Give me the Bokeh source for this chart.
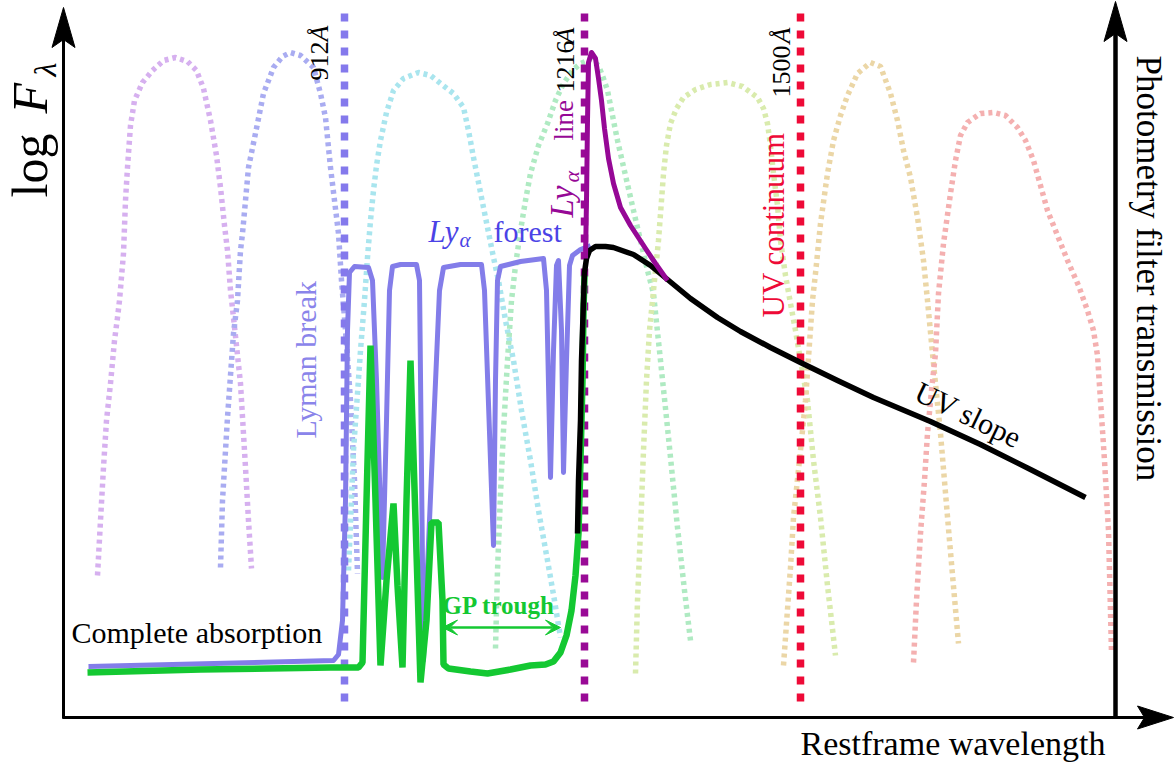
import math
from bokeh.plotting import figure
from bokeh.models import Range1d, Arrow, VeeHead
from bokeh.core.properties import value
from bokeh.embed import file_html
from bokeh.resources import INLINE

W, H = 1174, 765
SERIF = "Liberation Serif"

# ---------------- data (schematic units; y grows downward) -------------
# photometric filter transmission curves
f1_x = [97, 100, 103, 106, 110, 114, 117, 119, 123, 125, 127, 130, 134, 142, 152, 163, 175, 187, 196, 203, 210, 216, 220, 224, 227, 230, 233, 240, 245, 248, 251]
f1_y = [575, 520, 467, 420, 383, 340, 317, 300, 253, 200, 167, 125, 100, 82, 70, 60, 57, 61, 70, 88, 120, 155, 187, 225, 250, 290, 317, 383, 467, 520, 568]
f2_x = [220, 222, 227, 233, 237, 240, 242, 248, 257, 263, 273, 282, 290, 300, 313, 320, 325, 330, 334, 338, 341, 345, 350, 354, 357]
f2_y = [567, 500, 417, 333, 300, 250, 233, 167, 123, 93, 67, 56, 52, 55, 67, 93, 117, 167, 200, 233, 280, 330, 400, 480, 573]
f3_x = [348, 353, 360, 364, 367, 370, 373, 376, 380, 386, 393, 403, 418, 430, 440, 453, 463, 468, 473, 478, 483, 488, 493, 498, 505, 513, 521, 530, 538, 547, 554, 560]
f3_y = [570, 450, 350, 300, 257, 220, 190, 165, 140, 112, 90, 78, 72, 75, 83, 93, 107, 130, 157, 182, 207, 232, 257, 280, 320, 360, 410, 460, 510, 560, 600, 637]
f4_x = [495, 497, 500, 503, 507, 511, 515, 520, 525, 530, 538, 547, 555, 563, 572, 580, 590, 598, 603, 607, 612, 617, 625, 633, 640, 647, 653, 660, 667, 677, 684, 690]
f4_y = [648, 570, 493, 430, 360, 300, 265, 230, 200, 173, 145, 123, 100, 83, 70, 63, 59, 65, 78, 90, 115, 140, 175, 210, 240, 270, 293, 360, 427, 527, 590, 640]
f5_x = [635, 637, 640, 643, 646, 649, 653, 658, 661, 663, 666, 670, 676, 683, 695, 710, 727, 742, 757, 763, 767, 770, 773, 777, 780, 785, 790, 795, 800, 807, 813, 820, 827, 835]
f5_y = [673, 600, 530, 450, 380, 330, 290, 240, 200, 173, 145, 123, 108, 97, 89, 84, 82, 86, 97, 108, 123, 145, 173, 205, 240, 275, 303, 330, 360, 400, 460, 517, 585, 655]
f6_x = [783, 790, 793, 800, 805, 812, 815, 820, 827, 833, 840, 847, 857, 870, 880, 890, 897, 903, 910, 917, 923, 927, 932, 940, 949, 958]
f6_y = [665, 567, 517, 450, 400, 300, 273, 223, 173, 140, 115, 95, 73, 62, 66, 93, 120, 150, 177, 217, 260, 300, 353, 433, 540, 643]
f7_x = [913, 916, 920, 924, 927, 931, 935, 938, 943, 950, 955, 960, 967, 980, 993, 1005, 1017, 1025, 1033, 1040, 1047, 1057, 1067, 1078, 1087, 1093, 1097, 1100, 1104, 1108, 1111]
f7_y = [662, 600, 533, 480, 433, 390, 353, 293, 243, 193, 160, 135, 122, 113, 112, 115, 127, 140, 160, 185, 210, 235, 260, 285, 310, 330, 355, 400, 460, 530, 652]
filter_colors = ["#d6b0ef", "#a9acf1", "#a9e5ee", "#afeac2", "#d9ebad", "#ebd6a6", "#f4b0b0"]

# spectra
forest_x = [88, 333, 338, 342, 345, 347, 349, 354, 368, 372, 376, 382, 386, 389, 392, 400, 416, 419, 423, 432, 439, 443, 460, 481, 484, 493, 495, 497, 500, 520, 543, 546, 550, 553, 556, 558, 561, 563, 566, 569, 572, 580, 590]
forest_y = [666, 660, 654, 620, 500, 330, 272, 266, 267, 280, 380, 577, 420, 290, 266, 264, 264, 280, 660, 450, 290, 267, 264, 264, 290, 545, 380, 280, 266, 261, 258, 290, 477, 350, 265, 260, 330, 472, 360, 265, 255, 249, 245]
gp_x = [87, 200, 330, 358, 362, 366, 370, 375, 380, 386, 393, 397, 402, 406, 410, 415, 420, 426, 431, 438, 442, 443, 448, 470, 487, 510, 530, 545, 553, 560, 566, 571, 575, 578, 580, 582, 583, 584]
gp_y = [672, 669, 667, 667, 662, 500, 345, 500, 665, 580, 503, 585, 667, 500, 360, 520, 682, 620, 522, 522, 600, 664, 668, 671, 673, 669, 665, 664, 661, 652, 635, 610, 575, 533, 460, 380, 310, 275]
cont_x = [577, 578, 580, 581, 583, 584, 586, 589, 595, 605, 613, 633, 650, 667, 690, 717, 740, 770, 800, 837, 873, 930, 980, 1030, 1085]
cont_y = [533, 480, 420, 360, 300, 272, 258, 250, 246, 246, 247, 254, 265, 279, 298, 317, 331, 347, 362, 380, 397, 421, 444, 469, 497]
lya_x = [585, 586, 587, 588, 591, 595, 598, 601, 604, 608, 613, 620, 630, 645, 655, 667]
lya_y = [258, 200, 120, 62, 52, 58, 78, 100, 128, 158, 183, 207, 225, 248, 263, 280]

# reference wavelengths
ref_labels = ["912", "1216", "1500"]
ref_x = [344, 584, 800]
ref_colors = ["#8479ec", "#990a96", "#ee0a37"]

# ---------------- layout constants -------------
AX_L, AX_B, AX_R = 63, 717, 1115

p = figure(width=W, height=H, x_range=Range1d(0, W), y_range=Range1d(H, 0),
           x_axis_type=None, y_axis_type=None, toolbar_location=None,
           output_backend="svg", min_border=0, outline_line_color=None,
           background_fill_color="white", border_fill_color="white")
p.grid.visible = False

# filters
for fx, fy, c in zip([f1_x, f2_x, f3_x, f4_x, f5_x, f6_x, f7_x],
                     [f1_y, f2_y, f3_y, f4_y, f5_y, f6_y, f7_y], filter_colors):
    p.line(fx, fy, line_color=c, line_width=5.5, line_dash="4 4", line_join="round")

# vertical reference lines
for x, c in zip(ref_x, ref_colors):
    p.line([x, x], [13, 702], line_color=c, line_width=7.5, line_dash="8 9")

# spectra
p.line(forest_x, forest_y, line_color="#837de9", line_width=5, line_join="round")
p.line(gp_x, gp_y, line_color="#14c832", line_width=6.5)
p.line(cont_x, cont_y, line_color="black", line_width=5.5, line_join="round", line_cap="butt")
p.line(lya_x, lya_y, line_color="#960896", line_width=5, line_join="round")

# axes with arrow heads
p.line([AX_L, AX_L], [AX_B + 1, 30], line_color="black", line_width=3)
p.line([AX_L - 1, 1150], [AX_B, AX_B], line_color="black", line_width=3)
p.line([AX_R, AX_R], [AX_B + 1, 25], line_color="black", line_width=4.5)


def head(tx, ty, dx, dy, length=40, half=11.5, back=8):
    # dx, dy: unit direction of the arrow
    nx, ny = -dy, dx
    bx, by = tx - dx * length, ty - dy * length
    cx, cy = tx - dx * (length - back), ty - dy * (length - back)
    return ([tx, bx + nx * half, cx, bx - nx * half], [ty, by + ny * half, cy, by - ny * half])


for hx, hy in [head(AX_L, 7, 0, -1), head(AX_R, 1, 0, -1), head(1173, AX_B, 1, 0, 36, 11.5, 7)]:
    p.patch(hx, hy, fill_color="black", line_color="black", line_width=1)

# GP trough arrow
p.add_layout(Arrow(start=VeeHead(size=15, fill_color="#14c832", line_color="#14c832"),
                   end=VeeHead(size=15, fill_color="#14c832", line_color="#14c832"),
                   x_start=442, y_start=627, x_end=560, y_end=627,
                   line_color="#14c832", line_width=2.5))

SHIFT = 0.32  # renderer places the alphabetic baseline lower than requested


def txt(x, y, s, size, color="black", angle=0.0, align="left", baseline="alphabetic", style="normal"):
    if baseline == "alphabetic":
        d = SHIFT * size
        x = x - d * math.sin(angle)
        y = y - d * math.cos(angle)
    p.text(x=[x], y=[y], text=[s], text_font=value(SERIF), text_font_size=f"{size}px",
           text_color=color, angle=angle, text_align=align, text_baseline=baseline,
           text_font_style=style)


UP = math.pi / 2
# y-axis label
txt(45, 197, "log", 50, angle=UP)
txt(45, 113, "F", 50, angle=UP, style="italic")
txt(55, 76, "λ", 32, angle=UP, style="italic")
# right axis label
txt(1137, 55, "Photometry filter transmission", 35, angle=-UP)
# x-axis label
txt(800, 754, "Restframe wavelength", 34)

# reference wavelength labels
for lab, bx, sy, ay in zip(ref_labels, [327, 573, 789], [80, 92, 97], [41, 43, 43]):
    txt(bx, sy, lab, 26, angle=UP)
    txt(bx, ay, "Å", 26, angle=UP, style="italic")

# Ly-alpha line
txt(572, 217, "Ly", 33, color="#960896", angle=UP, style="italic")
txt(578, 182, "α", 22, color="#960896", angle=UP, style="italic")
txt(572, 140, "line", 27, color="#960896", angle=UP)
# UV continuum
txt(783, 317, "UV continuum", 31, color="#ee0a37", angle=UP)
# Lyman break
txt(315, 438, "Lyman break", 30, color="#8a84ea", angle=UP)
# Ly-alpha forest
txt(428, 241, "Ly", 31, color="#4b43e6", style="italic")
txt(459, 246, "α", 21, color="#4b43e6", style="italic")
txt(493, 241, "forest", 30, color="#4b43e6")
# other annotations
txt(71, 642, "Complete absorption", 30)
txt(442, 613, "GP trough", 25, color="#14c832", style="bold")
txt(968, 414, "UV slope", 30, angle=-0.45, align="center", baseline="middle")

open("out.html", "w").write(file_html(p, INLINE))
